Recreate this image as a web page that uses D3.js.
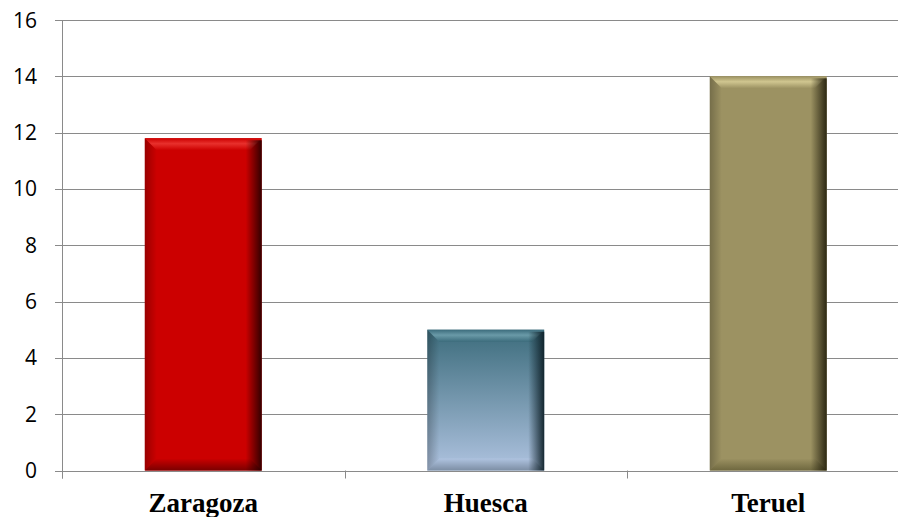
<!DOCTYPE html>
<html><head><meta charset="utf-8">
<script src="https://cdn.jsdelivr.net/npm/d3@7"></script>
<style>html,body{margin:0;padding:0;background:#fff;overflow:hidden}</style>
</head><body>
<svg id="chart" width="898" height="517"></svg>
<script>
const categories = ["Zaragoza", "Huesca", "Teruel"];
const values = [11.8, 5, 14];
const yTicks = [0, 2, 4, 6, 8, 10, 12, 14, 16];
const barColors = [
  {top:"#CC0000", bottom:"#CC0000", light:"#E8302C", dark:"#2A0000", low:"#7A0000"},
  {top:"#3C6C7C", bottom:"#AFC3E0", light:"#6A9AA8", dark:"#0E2028", low:"#7C8EA4"},
  {top:"#9C9262", bottom:"#9C9262", light:"#D0C690", dark:"#26220F", low:"#6E673F"}
];

const svg = d3.select("#chart");
const margin = {left: 62, top: 20, bottom: 46};
const plotW = 847.5;
const x = d3.scaleBand().domain(categories).range([margin.left, margin.left + plotW]).paddingInner(0.586).paddingOuter(0.293);
const y = d3.scaleLinear().domain([0, 16]).range([470.5, 20]);

// gridlines
svg.append("g").selectAll("line").data(yTicks).join("line")
  .attr("x1", 55).attr("x2", 898)
  .attr("y1", d => Math.round(y(d)) + 0.5).attr("y2", d => Math.round(y(d)) + 0.5)
  .attr("stroke", "#8a8a8a").attr("stroke-width", 1);
// y axis line
svg.append("line").attr("x1", 62.5).attr("x2", 62.5).attr("y1", y(16)).attr("y2", y(0)+8)
  .attr("stroke", "#8a8a8a");
// x category tick marks
const bounds = [0,1,2,3].map(i => margin.left + i * plotW / 3);
svg.append("g").selectAll("line").data(bounds).join("line")
  .attr("x1", d => Math.round(d) + 0.5).attr("x2", d => Math.round(d) + 0.5)
  .attr("y1", y(0)).attr("y2", y(0) + 8).attr("stroke", "#8a8a8a");

// y labels
svg.append("g").selectAll("text").data(yTicks).join("text")
  .attr("x", 37).attr("y", d => y(d) + 7.5)
  .attr("text-anchor", "end")
  .attr("font-family", "Open Sans, sans-serif").attr("font-size", 21).attr("fill", "#000")
  .text(d => d);

// defs
const defs = svg.append("defs");
categories.forEach((c, i) => {
  const col = barColors[i];
  const g1 = defs.append("linearGradient").attr("id", "body" + i).attr("x1", 0).attr("x2", 0).attr("y1", 0).attr("y2", 1);
  g1.append("stop").attr("offset", "0%").attr("stop-color", col.top);
  g1.append("stop").attr("offset", "100%").attr("stop-color", col.bottom);
  const g2 = defs.append("linearGradient").attr("id", "right" + i).attr("x1", 0).attr("x2", 1).attr("y1", 0).attr("y2", 0);
  g2.append("stop").attr("offset", "0%").attr("stop-color", col.dark).attr("stop-opacity", 0);
  g2.append("stop").attr("offset", "100%").attr("stop-color", col.dark).attr("stop-opacity", 0.95);
  const g3 = defs.append("linearGradient").attr("id", "topb" + i).attr("x1", 0).attr("x2", 0).attr("y1", 0).attr("y2", 1);
  g3.append("stop").attr("offset", "0%").attr("stop-color", col.top);
  g3.append("stop").attr("offset", "45%").attr("stop-color", col.light);
  g3.append("stop").attr("offset", "100%").attr("stop-color", col.top);
  const g4 = defs.append("linearGradient").attr("id", "botb" + i).attr("x1", 0).attr("x2", 0).attr("y1", 0).attr("y2", 1);
  g4.append("stop").attr("offset", "0%").attr("stop-color", col.bottom);
  g4.append("stop").attr("offset", "100%").attr("stop-color", col.low);
  const g5 = defs.append("linearGradient").attr("id", "left" + i).attr("x1", 0).attr("x2", 1).attr("y1", 0).attr("y2", 0);
  g5.append("stop").attr("offset", "0%").attr("stop-color", "#000").attr("stop-opacity", 0.25);
  g5.append("stop").attr("offset", "100%").attr("stop-color", "#000").attr("stop-opacity", 0);
});

// bars
const b = 12;
const bars = svg.append("g").selectAll("g").data(categories).join("g");
bars.each(function(c, i) {
  const g = d3.select(this);
  const x0 = x(c), w = x.bandwidth(), y0 = y(values[i]), h = y(0) - y(values[i]);
  const x1 = x0 + w, y1 = y0 + h;
  g.append("rect").attr("x", x0).attr("y", y0).attr("width", w).attr("height", h).attr("fill", `url(#body${i})`);
  g.append("polygon").attr("points", [[x0,y0],[x1,y0],[x1-b,y0+b],[x0+b,y0+b]].join(" ")).attr("fill", `url(#topb${i})`);
  g.append("polygon").attr("points", [[x0,y1],[x1,y1],[x1-b,y1-b],[x0+b,y1-b]].join(" ")).attr("fill", `url(#botb${i})`);
  g.append("polygon").attr("points", [[x0,y0],[x0+b,y0+b],[x0+b,y1-b],[x0,y1]].join(" ")).attr("fill", `url(#left${i})`);
  g.append("rect").attr("x", x1 - 16).attr("y", y0 + 2).attr("width", 16).attr("height", h - 2).attr("fill", `url(#right${i})`);
});

// x labels
svg.append("g").selectAll("text").data(categories).join("text")
  .attr("x", d => x(d) + x.bandwidth() / 2).attr("y", 512)
  .attr("text-anchor", "middle")
  .attr("font-family", "Liberation Serif, Times New Roman, serif").attr("font-weight", "bold").attr("font-size", 27)
  .attr("fill", "#000")
  .text(d => d);
</script>
</body></html>
